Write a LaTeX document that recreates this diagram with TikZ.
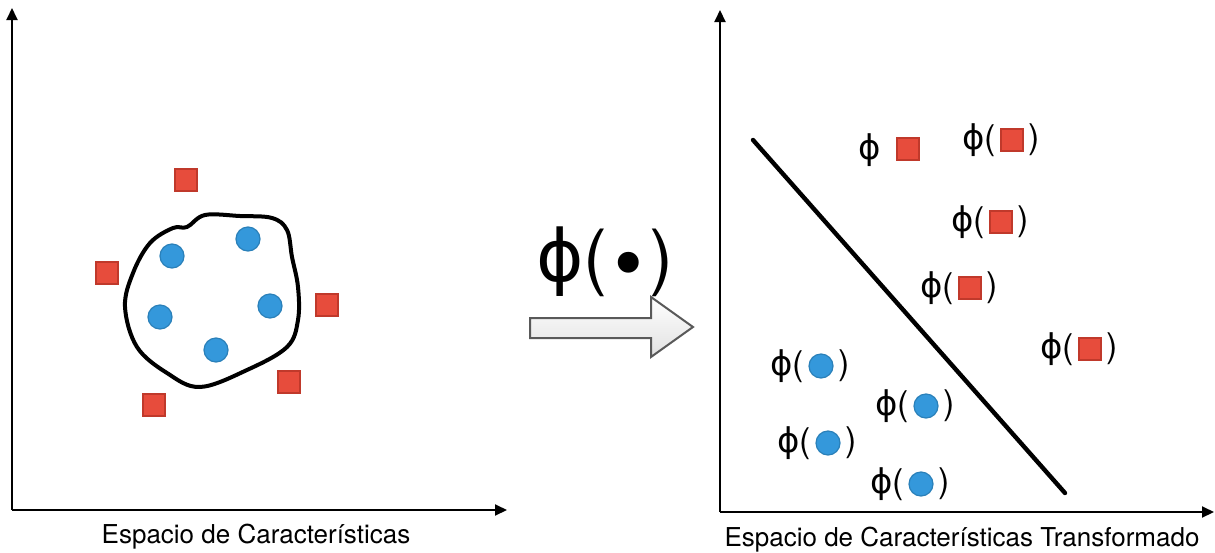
\documentclass[tikz,border=0pt]{standalone}
\usepackage{fontspec}
\setmainfont{TeX Gyre Heros}
\newfontfamily\phifont{DejaVu Sans}
\usetikzlibrary{arrows.meta,positioning}

\definecolor{sqred}{HTML}{E74C3C}
\definecolor{sqredline}{HTML}{C0392B}
\definecolor{dotblue}{HTML}{3498DB}
\definecolor{dotblueline}{HTML}{2A80B9}

\tikzset{
	axis/.style={line width=1pt, -{Triangle[width=5.5pt,length=6pt]}},
	sqnode/.style={rectangle, fill=sqred, draw=sqredline, line width=0.6pt, minimum size=11pt, inner sep=0pt},
	dotnode/.style={circle, fill=dotblue, draw=dotblueline, line width=0.6pt, minimum size=12pt, inner sep=0pt},
	maplabel/.style={inner sep=0pt, font=\fontsize{17}{17}\selectfont},
	axislabel/.style={font=\fontsize{13}{13}\selectfont}
}

\begin{document}
\begin{tikzpicture}[x=0.5pt, y=-0.5pt]

	\useasboundingbox (0,0) rectangle (1215,552);

	% left axes
	\coordinate (lo) at (12,510);
	\coordinate (ly) at (12,8);
	\coordinate (lx) at (507,510);
	\draw[axis] (lo) -- (ly);
	\draw[axis] (lo) -- (lx);
	\node[axislabel] (lname) at (256,537) {Espacio de Características};

	% right axes
	\coordinate (ro) at (720,512);
	\coordinate (ry) at (720,10);
	\coordinate (rx) at (1214,512);
	\draw[axis] (ro) -- (ry);
	\draw[axis] (ro) -- (rx);
	\node[axislabel] (rname) at (962,540) {Espacio de Características Transformado};

	% boundary in the original space
	\draw[line width=2pt, line join=round] plot[smooth cycle, tension=0.6] coordinates {
		(205,215) (240,216) (272,218) (287,230) (292,257) (298,287) (298,320)
		(287,347) (247,370) (200,387) (167,373) (137,347) (125,307) (133,273)
		(150,243) (173,228) (187,227)};

	% classes in the original space
	\foreach \x/\y [count=\i] in {186/180, 107/273, 327/305, 289/382, 154/405}
		\node[sqnode] (sq\i) at (\x,\y) {};
	\foreach \x/\y [count=\i] in {172/256, 248/239, 160/317, 270/306, 216/350}
		\node[dotnode] (dot\i) at (\x,\y) {};

	% mapping arrow
	\draw[line width=1pt, draw=black!65, top color=white, bottom color=black!12]
		(530,318) -- (651,318) -- (651,297) -- (693,327) -- (651,357) -- (651,338) -- (530,338) -- cycle;
	\node[inner sep=0pt, font=\fontsize{36}{36}\selectfont] (map) at (605,262) {{\phifont ϕ}(\raisebox{-4pt}{\phifont •})};

	% separating line in the new space
	\coordinate (sepA) at (753,140);
	\coordinate (sepB) at (1065,493);
	\draw[line width=2.2pt, line cap=round] (sepA) -- (sepB);

	% mapped squares
	\node[sqnode] (tsq0) at (908,149) {};
	\node[maplabel] (tphi0) at (870,150) {\phifont ϕ};
	\foreach \x/\y [count=\i] in {1012/140, 1001/222, 970/288, 1090/349} {
		\node[sqnode] (tsq\i) at (\x,\y) {};
		\node[maplabel, left=2pt of tsq\i] (tl\i) {{\phifont ϕ}(};
		\node[maplabel, right=2pt of tsq\i] (tr\i) {)};
	}

	% mapped dots
	\foreach \x/\y [count=\i] in {821/366, 926/406, 828/443, 921/484} {
		\node[dotnode] (tdot\i) at (\x,\y) {};
		\node[maplabel, left=2pt of tdot\i] (tdl\i) {{\phifont ϕ}(};
		\node[maplabel, right=2pt of tdot\i] (tdr\i) {)};
	}

\end{tikzpicture}
\end{document}
